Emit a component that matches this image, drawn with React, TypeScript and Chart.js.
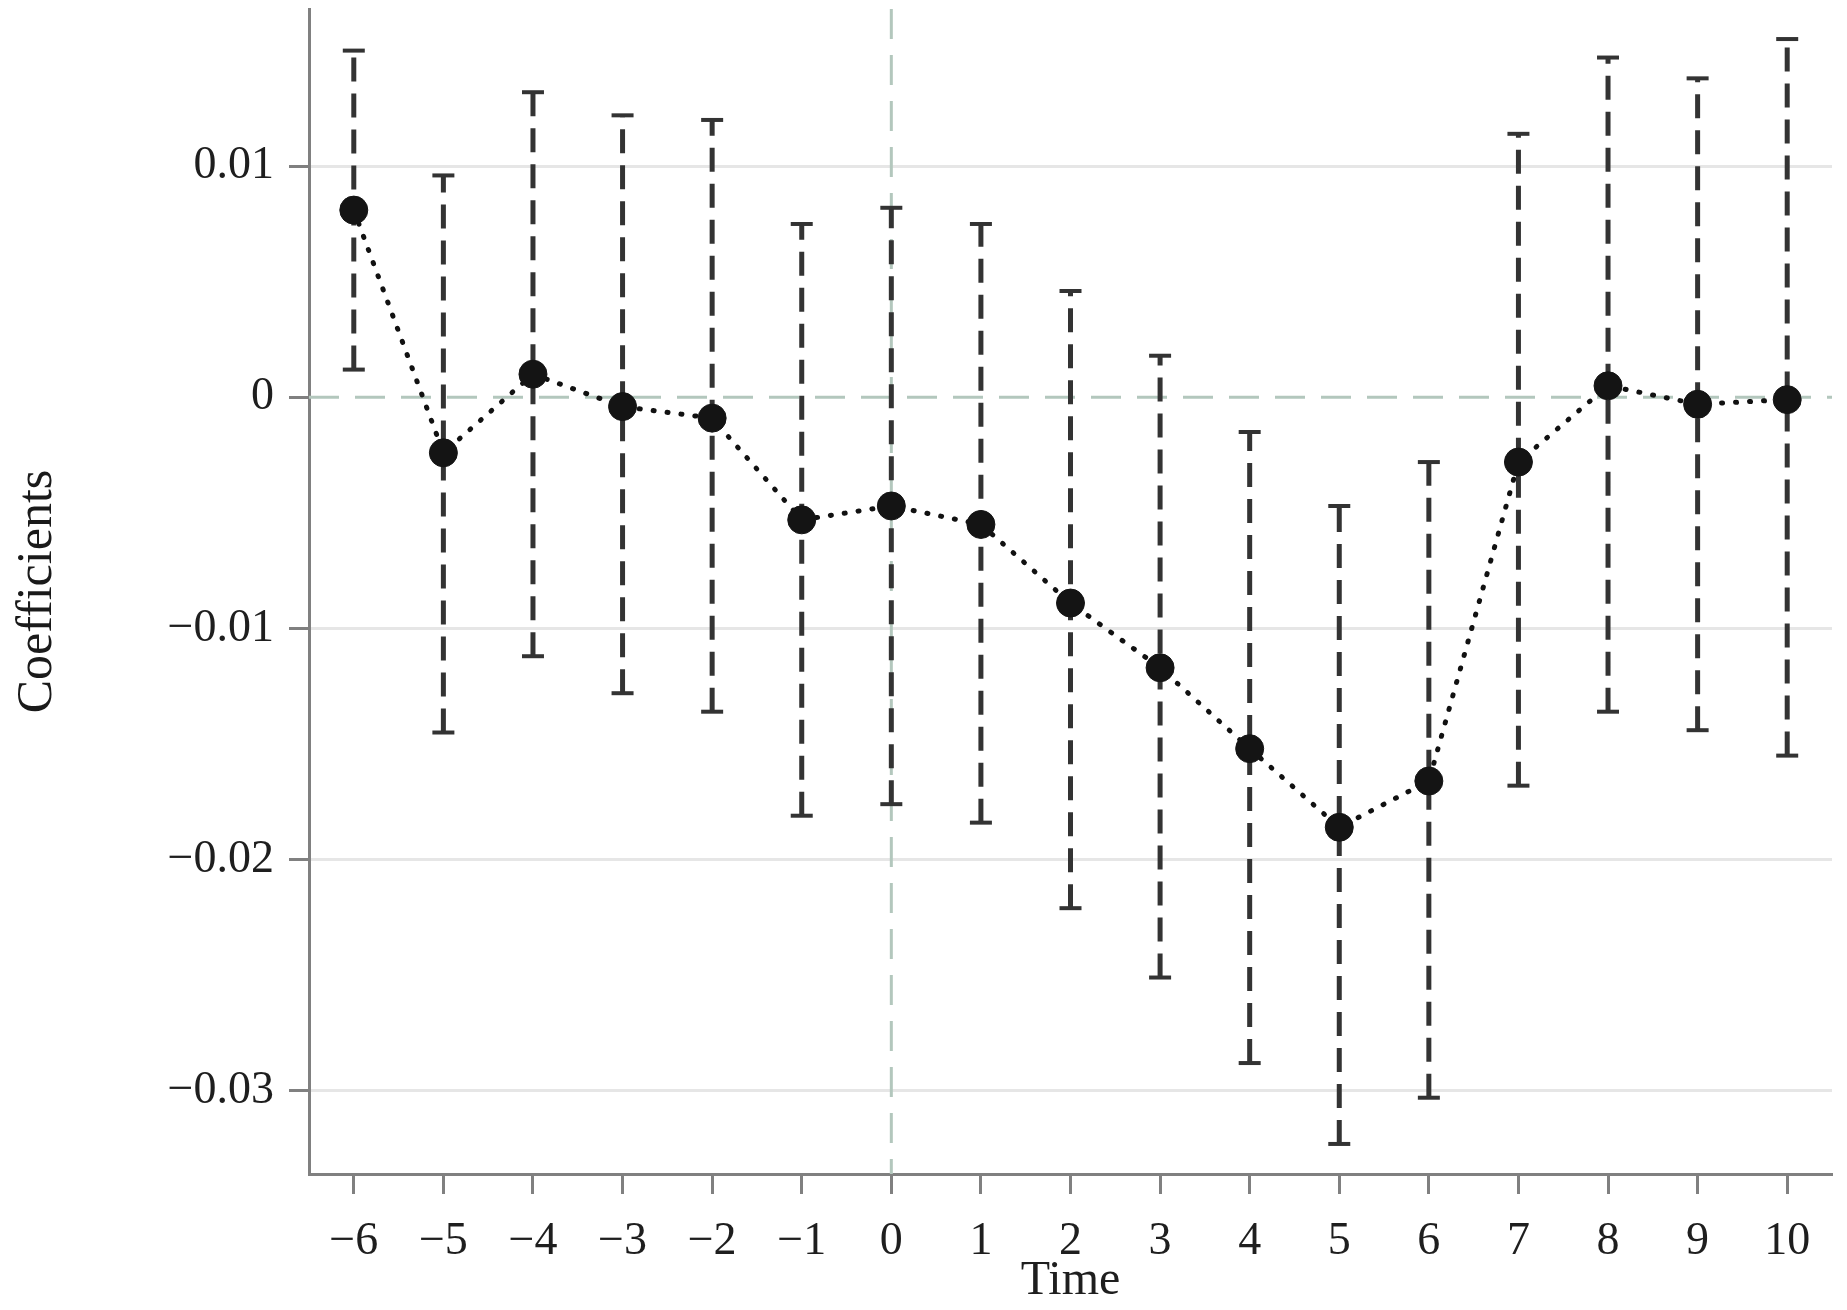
import React, { useEffect, useRef } from "react";
import { Chart, registerables } from "chart.js";

Chart.register(...registerables);

// ---- data ----
const periods = [-6, -5, -4, -3, -2, -1, 0, 1, 2, 3, 4, 5, 6, 7, 8, 9, 10];
const coefficients = [0.0081, -0.0024, 0.0010, -0.0004, -0.0009, -0.0053, -0.0047, -0.0055, -0.0089, -0.0117, -0.0152, -0.0186, -0.0166, -0.0028, 0.0005, -0.0003, -0.0001];
const upperCI = [0.0150, 0.0096, 0.0132, 0.0122, 0.0120, 0.0075, 0.0082, 0.0075, 0.0046, 0.0018, -0.0015, -0.0047, -0.0028, 0.0114, 0.0147, 0.0138, 0.0155];
const lowerCI = [0.0012, -0.0145, -0.0112, -0.0128, -0.0136, -0.0181, -0.0176, -0.0184, -0.0221, -0.0251, -0.0288, -0.0323, -0.0303, -0.0168, -0.0136, -0.0144, -0.0155];
const yTicks = [-0.03, -0.02, -0.01, 0, 0.01];
const xTicks = periods;
const xMin = -6.5;
const xMax = 10.5;
const yMin = -0.0336;
const yMax = 0.0168;
const eventPeriod = 0;

const SERIF = '"Liberation Serif", "Times New Roman", Times, serif';

function fmtY(v: number): string {
  if (Math.abs(v) < 1e-12) return "0";
  return (v < 0 ? "\u2212" : "") + Math.abs(v).toFixed(2);
}
function fmtX(v: number): string {
  return (v < 0 ? "\u2212" : "") + String(Math.abs(v));
}

function zeroPad(s: any) {
  s.paddingTop = 0;
  s.paddingBottom = 0;
  s.paddingLeft = 0;
  s.paddingRight = 0;
}

export default function App() {
  const ref = useRef<HTMLCanvasElement | null>(null);

  useEffect(() => {
    const canvas = ref.current;
    if (!canvas) return;

    const errData: any[] = [];
    periods.forEach((p, i) => {
      errData.push({ x: p, y: lowerCI[i] });
      errData.push({ x: p, y: upperCI[i] });
      errData.push({ x: p, y: null });
    });

    const chart = new Chart(canvas, {
      type: "line",
      data: {
        datasets: [
          {
            label: "zero",
            data: [
              { x: xMin, y: 0 },
              { x: xMax, y: 0 },
            ],
            borderColor: "#b3c7bd",
            borderWidth: 3,
            borderDash: [30, 16],
            pointRadius: 0,
            order: 4,
          },
          {
            label: "event",
            data: [
              { x: eventPeriod, y: yMax },
              { x: eventPeriod, y: yMin },
            ],
            borderColor: "#b3c7bd",
            borderWidth: 3,
            borderDash: [30, 16],
            pointRadius: 0,
            order: 3,
          },
          {
            label: "ci",
            data: errData,
            borderColor: "#333333",
            borderWidth: 5,
            borderDash: [24, 12],
            spanGaps: false,
            pointStyle: "line",
            pointRadius: (c: any) => (c.raw && c.raw.y != null ? 11 : 0),
            pointBorderWidth: 4,
            pointBorderColor: "#333333",
            pointBackgroundColor: "#333333",
            order: 2,
          },
          {
            label: "Coefficients",
            data: periods.map((p, i) => ({ x: p, y: coefficients[i] })),
            borderColor: "#111111",
            borderWidth: 5,
            borderDash: [1, 13],
            borderCapStyle: "round",
            pointRadius: 14,
            pointBackgroundColor: "#141414",
            pointBorderColor: "#141414",
            pointBorderWidth: 1,
            order: 1,
          },
        ] as any,
      },
      options: {
        responsive: false,
        animation: false,
        layout: { autoPadding: false, padding: { left: 0, top: 9, right: 15, bottom: 0 } },
        plugins: {
          legend: { display: false },
          tooltip: { enabled: false },
        },
        scales: {
          x: {
            type: "linear",
            min: xMin,
            max: xMax,
            afterBuildTicks: (s: any) => {
              s.ticks = xTicks.map((v) => ({ value: v }));
            },
            afterFit: (s: any) => {
              s.height = 136;
              zeroPad(s);
            },
            ticks: {
              callback: (v: any) => fmtX(Number(v)),
              font: { family: SERIF, size: 46 },
              color: "#1e1e1e",
              padding: 20,
              maxRotation: 0,
              autoSkip: false,
            },
            grid: {
              display: true,
              drawOnChartArea: false,
              drawTicks: true,
              tickLength: 20,
              tickWidth: 3,
              tickColor: "#808080",
            },
            border: { display: true, color: "#808080", width: 3 },
            title: {
              display: true,
              text: "Time",
              font: { family: SERIF, size: 48 },
              color: "#1e1e1e",
              padding: { top: 0, bottom: 0 },
            },
          },
          y: {
            type: "linear",
            min: yMin,
            max: yMax,
            afterBuildTicks: (s: any) => {
              s.ticks = yTicks.map((v) => ({ value: v }));
            },
            afterFit: (s: any) => {
              s.width = 309;
              zeroPad(s);
            },
            ticks: {
              callback: (v: any) => fmtY(Number(v)),
              font: { family: SERIF, size: 46 },
              color: "#1e1e1e",
              padding: 15,
              autoSkip: false,
            },
            grid: {
              display: true,
              drawOnChartArea: true,
              drawTicks: true,
              tickLength: 20,
              tickWidth: 3,
              tickColor: "#808080",
              lineWidth: 3,
              color: (c: any) =>
                c.tick && Math.abs(c.tick.value) < 1e-12 ? "rgba(0,0,0,0)" : "#e6e6e6",
            },
            border: { display: true, color: "#808080", width: 3 },
            title: {
              display: true,
              text: "Coefficients",
              font: { family: SERIF, size: 50 },
              color: "#1a1a1a",
              padding: { top: 8, bottom: 0 },
            },
          },
        },
      } as any,
    });

    return () => {
      chart.destroy();
    };
  }, []);

  return (
    <div style={{ position: "fixed", left: 0, top: 0, width: 1847, height: 1310, background: "#ffffff" }}>
      <canvas ref={ref} width={1847} height={1310} style={{ display: "block" }} />
    </div>
  );
}
